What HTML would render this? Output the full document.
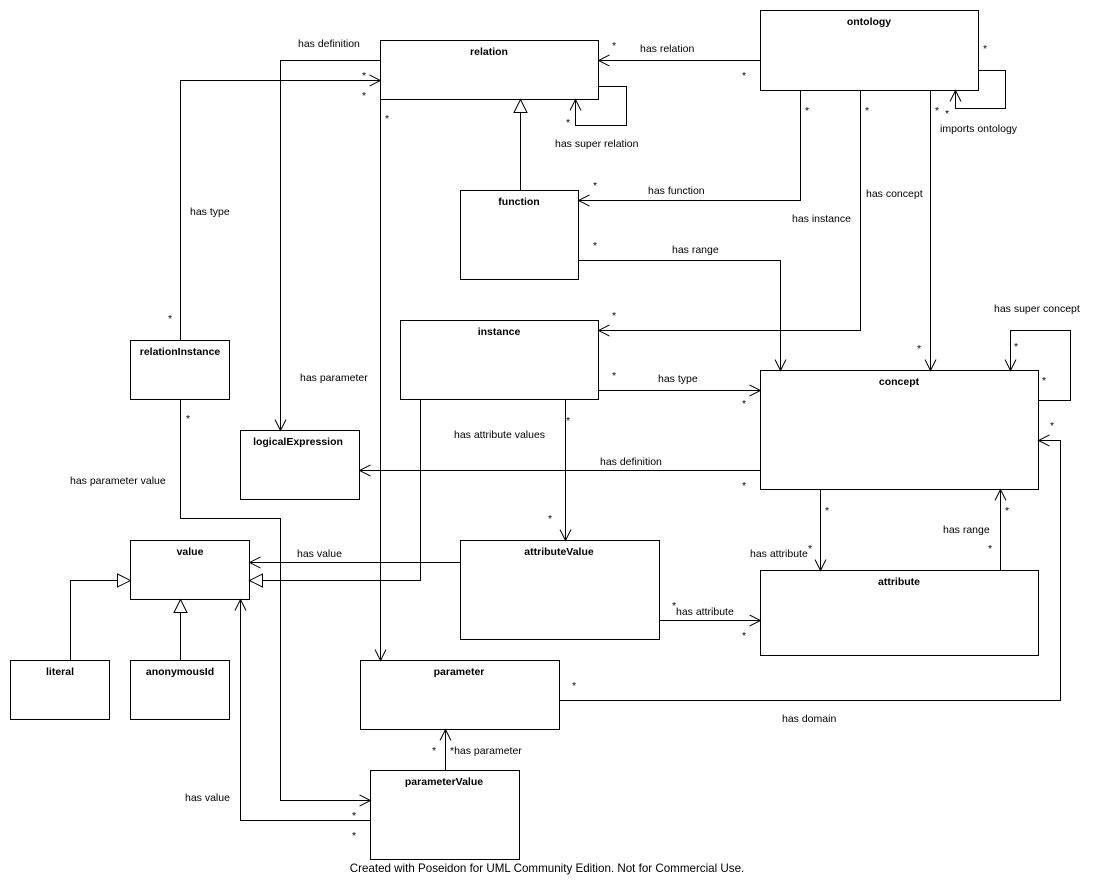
<!DOCTYPE html>
<html><head><meta charset="utf-8"><style>
html,body{margin:0;padding:0;background:#fff;}
svg{display:block;}
text{font-family:"Liberation Sans",sans-serif;font-size:10.5px;fill:#000;}
.t{font-weight:bold;text-anchor:middle;}
.b{fill:#fff;stroke:#000;stroke-width:1;}
.l{fill:none;stroke:#000;stroke-width:1;}
</style></head><body>
<svg width="1095" height="892" viewBox="0 0 1095 892" xmlns="http://www.w3.org/2000/svg">
<defs>
<marker id="a" markerWidth="12" markerHeight="12" refX="11" refY="6" orient="auto" markerUnits="userSpaceOnUse">
<path d="M0,0.5 L11,6 L0,11.5" fill="none" stroke="#000" stroke-width="1"/></marker>
<marker id="g" markerWidth="16" markerHeight="16" refX="14" refY="8" orient="auto" markerUnits="userSpaceOnUse">
<path d="M1,1.5 L14,8 L1,14.5 Z" fill="#fff" stroke="#000" stroke-width="1"/></marker>
</defs>
<g shape-rendering="crispEdges">
<rect class="b" x="760.5" y="10.5" width="218" height="80"/>
<rect class="b" x="380.5" y="40.5" width="218" height="59"/>
<rect class="b" x="460.5" y="190.5" width="118" height="89"/>
<rect class="b" x="400.5" y="320.5" width="198" height="79"/>
<rect class="b" x="130.5" y="340.5" width="99" height="59"/>
<rect class="b" x="240.5" y="430.5" width="119" height="69"/>
<rect class="b" x="760.5" y="370.5" width="278" height="119"/>
<rect class="b" x="130.5" y="540.5" width="119" height="59"/>
<rect class="b" x="460.5" y="540.5" width="199" height="99"/>
<rect class="b" x="760.5" y="570.5" width="278" height="85"/>
<rect class="b" x="10.5" y="660.5" width="99" height="59"/>
<rect class="b" x="130.5" y="660.5" width="99" height="59"/>
<rect class="b" x="360.5" y="660.5" width="199" height="69"/>
<rect class="b" x="370.5" y="770.5" width="149" height="89"/>
</g>
<g class="l">
<polyline class="l" points="760.5,60.5 598.5,60.5" marker-end="url(#a)"/>
<polyline class="l" points="598.5,86.5 626.5,86.5 626.5,125.5 575.5,125.5 575.5,99.5" marker-end="url(#a)"/>
<polyline class="l" points="520.5,190.5 520.5,99.5" marker-end="url(#g)"/>
<polyline class="l" points="800.5,90.5 800.5,200.5 578.5,200.5" marker-end="url(#a)"/>
<polyline class="l" points="578.5,260.5 780.5,260.5 780.5,370.5" marker-end="url(#a)"/>
<polyline class="l" points="860.5,90.5 860.5,330.5 598.5,330.5" marker-end="url(#a)"/>
<polyline class="l" points="930.5,90.5 930.5,370.5" marker-end="url(#a)"/>
<polyline class="l" points="978.5,70.5 1005.5,70.5 1005.5,108.5 955.5,108.5 955.5,90.5" marker-end="url(#a)"/>
<polyline class="l" points="180.5,340.5 180.5,80.5 380.5,80.5" marker-end="url(#a)"/>
<polyline class="l" points="380.5,60.5 280.5,60.5 280.5,430.5" marker-end="url(#a)"/>
<polyline class="l" points="380.5,99.5 380.5,660.5" marker-end="url(#a)"/>
<polyline class="l" points="180.5,399.5 180.5,518.5 280.5,518.5 280.5,800.5 370.5,800.5" marker-end="url(#a)"/>
<polyline class="l" points="598.5,390.5 760.5,390.5" marker-end="url(#a)"/>
<polyline class="l" points="565.5,399.5 565.5,540.5" marker-end="url(#a)"/>
<polyline class="l" points="420.5,399.5 420.5,580.5 249.5,580.5" marker-end="url(#g)"/>
<polyline class="l" points="760.5,470.5 359.5,470.5" marker-end="url(#a)"/>
<polyline class="l" points="460.5,562.5 249.5,562.5" marker-end="url(#a)"/>
<polyline class="l" points="70.5,660.5 70.5,580.5 130.5,580.5" marker-end="url(#g)"/>
<polyline class="l" points="180.5,660.5 180.5,599.5" marker-end="url(#g)"/>
<polyline class="l" points="370.5,820.5 240.5,820.5 240.5,599.5" marker-end="url(#a)"/>
<polyline class="l" points="445.5,770.5 445.5,729.5" marker-end="url(#a)"/>
<polyline class="l" points="1038.5,400.5 1070.5,400.5 1070.5,330.5 1010.5,330.5 1010.5,370.5" marker-end="url(#a)"/>
<polyline class="l" points="820.5,489.5 820.5,570.5" marker-end="url(#a)"/>
<polyline class="l" points="1000.5,570.5 1000.5,489.5" marker-end="url(#a)"/>
<polyline class="l" points="659.5,620.5 760.5,620.5" marker-end="url(#a)"/>
<polyline class="l" points="559.5,700.5 1060.5,700.5 1060.5,440.5 1038.5,440.5" marker-end="url(#a)"/>
</g>
<text class="t" x="869" y="25">ontology</text>
<text class="t" x="489" y="55">relation</text>
<text class="t" x="519" y="205">function</text>
<text class="t" x="499" y="335">instance</text>
<text class="t" x="180" y="355">relationInstance</text>
<text class="t" x="298" y="445">logicalExpression</text>
<text class="t" x="899" y="385">concept</text>
<text class="t" x="190" y="555">value</text>
<text class="t" x="559" y="555">attributeValue</text>
<text class="t" x="899" y="585">attribute</text>
<text class="t" x="60" y="675">literal</text>
<text class="t" x="180" y="675">anonymousId</text>
<text class="t" x="459" y="675">parameter</text>
<text class="t" x="444" y="785">parameterValue</text>
<text x="640" y="52">has relation</text>
<text x="555" y="147">has super relation</text>
<text x="648" y="194">has function</text>
<text x="672" y="253">has range</text>
<text x="792" y="222">has instance</text>
<text x="866" y="197">has concept</text>
<text x="940" y="132">imports ontology</text>
<text x="190" y="215">has type</text>
<text x="298" y="47">has definition</text>
<text x="300" y="381">has parameter</text>
<text x="70" y="484">has parameter value</text>
<text x="658" y="382">has type</text>
<text x="454" y="438">has attribute values</text>
<text x="600" y="465">has definition</text>
<text x="297" y="557">has value</text>
<text x="185" y="801">has value</text>
<text x="450" y="754">*has parameter</text>
<text x="994" y="312">has super concept</text>
<text x="750" y="557">has attribute</text>
<text x="943" y="533">has range</text>
<text x="676" y="615">has attribute</text>
<text x="782" y="722">has domain</text>
<text x="547" y="872" style="text-anchor:middle;font-size:11.6px">Created with Poseidon for UML Community Edition. Not for Commercial Use.</text>
<g>
<text x="612" y="49">*</text><text x="742" y="79">*</text>
<text x="566" y="126">*</text>
<text x="593" y="189">*</text><text x="805" y="114">*</text>
<text x="593" y="249">*</text>
<text x="612" y="319">*</text><text x="865" y="114">*</text>
<text x="935" y="114">*</text><text x="917" y="352">*</text>
<text x="983" y="52">*</text><text x="945" y="117">*</text>
<text x="168" y="322">*</text><text x="362" y="79">*</text><text x="362" y="99">*</text>
<text x="385" y="122">*</text>
<text x="186" y="422">*</text>
<text x="612" y="379">*</text><text x="742" y="407">*</text>
<text x="566" y="424">*</text><text x="548" y="522">*</text>
<text x="742" y="489">*</text>
<text x="352" y="819">*</text><text x="352" y="839">*</text>
<text x="432" y="754">*</text>
<text x="1014" y="350">*</text><text x="1042" y="384">*</text>
<text x="825" y="514">*</text><text x="808" y="552">*</text>
<text x="1005" y="514">*</text><text x="988" y="552">*</text>
<text x="672" y="609">*</text><text x="742" y="639">*</text>
<text x="572" y="689">*</text><text x="1050" y="429">*</text>
</g>
</svg>
</body></html>
